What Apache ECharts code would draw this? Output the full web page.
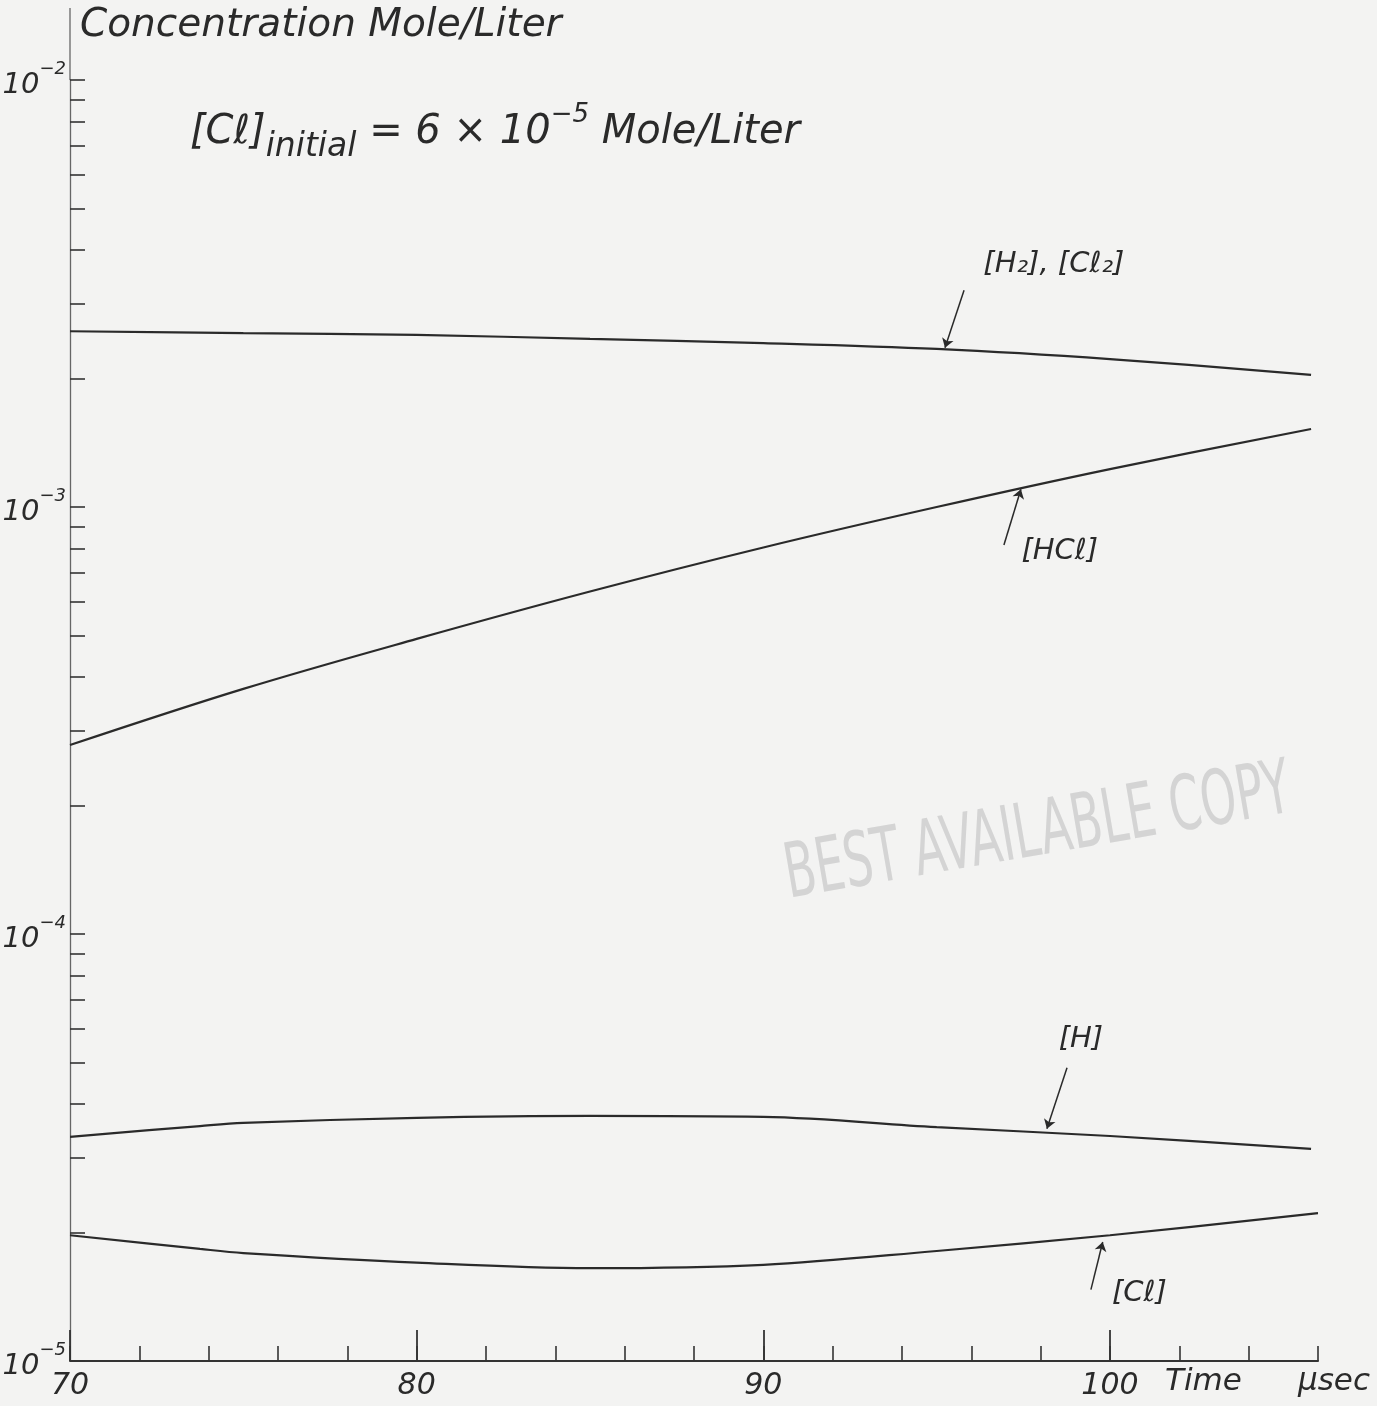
<!DOCTYPE html>
<html><head><meta charset="utf-8">
<script src="https://cdn.jsdelivr.net/npm/echarts@6/dist/echarts.min.js"></script>
<style>html,body{margin:0;padding:0;background:#f3f3f2}#c{width:1377px;height:1406px}</style>
</head><body><div id="c"></div>
<script>
// ---- data (time in microseconds, concentration in mole/liter) ----
const tH2 = [70, 75, 80, 85, 90, 95, 100, 105.8];
const h2Cl2 = [2.58e-3, 2.555e-3, 2.53e-3, 2.475e-3, 2.42e-3, 2.345e-3, 2.22e-3, 2.04e-3];
const tHCl = [70, 75, 80, 85, 90, 95, 100, 105.8];
const hcl = [2.77e-4, 3.75e-4, 4.91e-4, 6.34e-4, 8.04e-4, 1.0e-3, 1.227e-3, 1.523e-3];
const tH = [70, 73.75, 75, 80, 85, 90, 95, 100, 105.8];
const hAtom = [3.35e-5, 3.55e-5, 3.61e-5, 3.71e-5, 3.75e-5, 3.73e-5, 3.53e-5, 3.365e-5, 3.14e-5];
const tCl = [70, 73.75, 75, 80, 85, 90, 95, 100, 106];
const clAtom = [1.97e-5, 1.83e-5, 1.79e-5, 1.70e-5, 1.65e-5, 1.68e-5, 1.81e-5, 1.97e-5, 2.22e-5];

// ---- ticks / labels ----
const xShortTicks = [70,72,74,76,78,80,82,84,86,88,90,92,94,96,98,100,102,104,106];
const xLongTicks = [70, 80, 90, 100];
const xLabelValues = [70, 80, 90, 100];
const yLabelValues = [1e-5, 1e-4, 1e-3, 1e-2];
const yTickMantissas = [1,2,3,4,5,6,7,8,9];
const yDecades = [1e-5, 1e-4, 1e-3];
const seriesNames = ['[H2],[Cl2]', '[HCl]', '[H]', '[Cl]'];

// annotation anchors (data space): label point, arrow tail, arrow tip
const annLabels = ['[H₂], [Cℓ₂]', '[HCℓ]', '[H]', '[Cℓ]'];
const annLabelAt = [[98.38, 3.69e-3], [98.55, 7.85e-4], [99.16, 5.65e-5], [100.85, 1.44e-5]];
const annTail = [[95.79, 3.22e-3], [96.94, 8.15e-4], [98.76, 4.86e-5], [99.45, 1.47e-5]];
const annTip = [[95.24, 2.36e-3], [97.43, 1.1e-3], [98.18, 3.5e-5], [99.79, 1.9e-5]];

const yTicks = [];
yDecades.forEach(d => yTickMantissas.forEach(m => yTicks.push(+(m * d).toPrecision(3))));
yTicks.push(1e-2);

const FONT = 'DejaVu Sans';
const INK = '#2a2a2a';
const pairs = (t, v) => t.map((x, i) => [x, v[i]]);

const chart = echarts.init(document.getElementById('c'), null, {renderer: 'canvas'});

function mkSeries(name, t, v, k) {
  return {
    name, type: 'line', xAxisIndex: 0, yAxisIndex: 0,
    data: pairs(t, v), smooth: 0.35, showSymbol: false, symbol: 'none',
    lineStyle: {color: INK, width: 2.2},
    markLine: {
      silent: true, symbol: ['none', 'arrow'], symbolSize: 9,
      lineStyle: {color: INK, width: 1.5, type: 'solid'},
      label: {show: false},
      data: [[{coord: annTail[k]}, {coord: annTip[k]}]]
    },
    markPoint: {
      silent: true, symbol: 'circle', symbolSize: 0,
      label: {show: true, formatter: annLabels[k], color: INK, fontFamily: FONT,
              fontStyle: 'italic', fontSize: 29},
      data: [{coord: annLabelAt[k]}]
    }
  };
}

const option = {
  backgroundColor: '#f3f3f2',
  animation: false,
  grid: {left: 70, right: 59, top: 80, bottom: 45, containLabel: false, outerBoundsMode: 'none'},
  xAxis: [
    {
      type: 'value', min: 70, max: 106, interval: 2,
      axisLine: {show: true, lineStyle: {color: '#333', width: 2}},
      axisTick: {show: true, inside: true, length: 15, customValues: xShortTicks,
                 lineStyle: {color: '#333', width: 1.6}},
      axisLabel: {show: true, customValues: xLabelValues, margin: 10,
                  color: INK, fontFamily: FONT, fontStyle: 'italic', fontSize: 30},
      splitLine: {show: false}
    },
    {
      type: 'value', min: 70, max: 106, interval: 2, position: 'bottom',
      axisLine: {show: false},
      axisTick: {show: true, inside: true, length: 31, customValues: xLongTicks,
                 lineStyle: {color: '#333', width: 1.8}},
      axisLabel: {show: false},
      splitLine: {show: false}
    }
  ],
  yAxis: [
    {
      type: 'log', logBase: 10, min: 1e-5, max: 1e-2,
      axisLine: {show: true, lineStyle: {color: '#666', width: 1.3}},
      axisTick: {show: true, inside: true, length: 15, customValues: yTicks,
                 lineStyle: {color: '#333', width: 1.6}},
      axisLabel: {
        show: true, customValues: yLabelValues, margin: 4,
        formatter: v => '{b|10}{s|−' + Math.round(-Math.log10(v)) + '}',
        rich: {
          b: {fontFamily: FONT, fontStyle: 'italic', fontSize: 29, color: INK, lineHeight: 40, verticalAlign: 'bottom'},
          s: {fontFamily: FONT, fontStyle: 'italic', fontSize: 18, color: INK, lineHeight: 40, verticalAlign: 'top'}
        }
      },
      splitLine: {show: false}
    }
  ],
  series: [
    mkSeries(seriesNames[0], tH2, h2Cl2, 0),
    mkSeries(seriesNames[1], tHCl, hcl, 1),
    mkSeries(seriesNames[2], tH, hAtom, 2),
    mkSeries(seriesNames[3], tCl, clAtom, 3)
  ],
  graphic: [
    {type: 'line', silent: true, shape: {x1: 70, y1: 8, x2: 70, y2: 80},
     style: {stroke: '#666', lineWidth: 1.3}},
    {type: 'text', left: 80, top: 6, silent: true,
     style: {text: 'Concentration Mole/Liter', fill: INK, font: 'italic 39px "DejaVu Sans"'}},
    {type: 'text', left: 190, top: 102, silent: true,
     style: {
       text: '{m|[Cℓ]}{sub|initial}{m| = 6 × 10}{sup|−5}{m| Mole/Liter}',
       rich: {
         m: {fontFamily: FONT, fontStyle: 'italic', fontSize: 40, fill: INK, color: INK, lineHeight: 62, verticalAlign: 'middle'},
         sub: {fontFamily: FONT, fontStyle: 'italic', fontSize: 33, fill: INK, color: INK, lineHeight: 62, verticalAlign: 'bottom'},
         sup: {fontFamily: FONT, fontStyle: 'italic', fontSize: 26, fill: INK, color: INK, lineHeight: 62, verticalAlign: 'top'}
       }
     }},
    {type: 'text', left: 1165, top: 1366, silent: true,
     style: {text: 'Time', fill: INK, font: 'italic 31px "DejaVu Sans"'}},
    {type: 'text', left: 1298, top: 1366, silent: true,
     style: {text: 'μsec', fill: INK, font: 'italic 31px "DejaVu Sans"'}},
    {type: 'text', x: 1038, y: 835, rotation: 0.17, scaleX: 0.6, silent: true,
     style: {text: 'BEST AVAILABLE COPY', fill: '#d4d4d4', align: 'center', verticalAlign: 'middle',
             font: '76px "DejaVu Sans", sans-serif'}}
  ]
};
chart.setOption(option);
</script>
</body></html>
